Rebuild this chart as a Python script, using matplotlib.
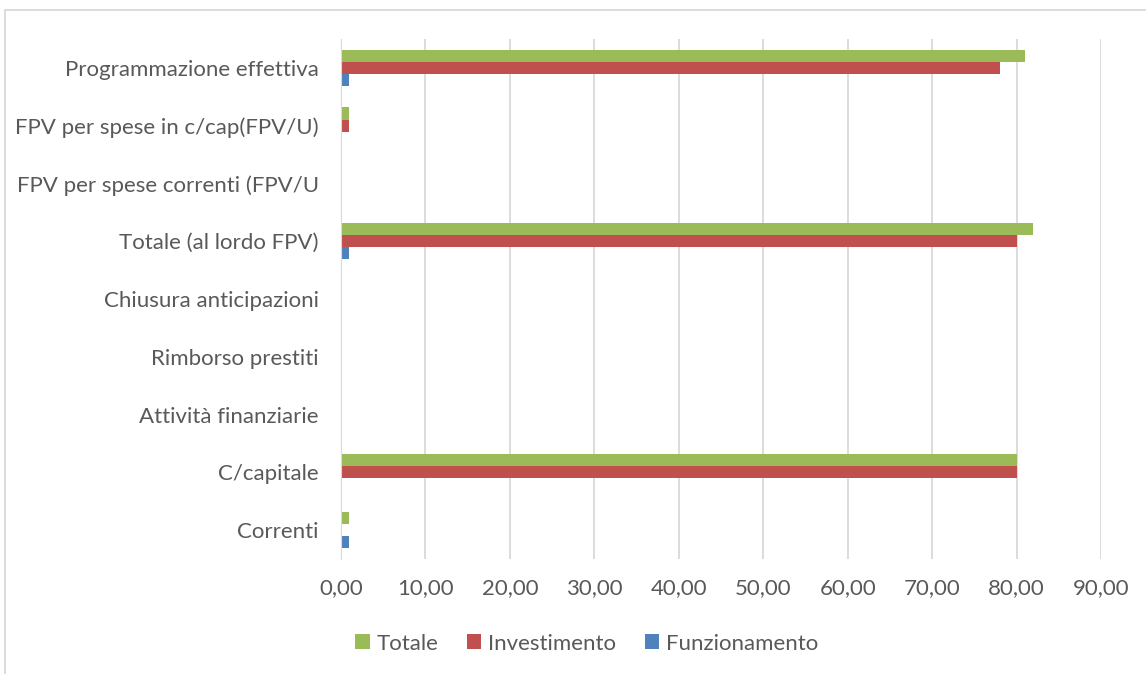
import numpy as np
import matplotlib.pyplot as plt
from matplotlib.patches import Rectangle
from matplotlib.ticker import FuncFormatter

categorie = ["Correnti", "C/capitale", "Attività finanziarie", "Rimborso prestiti",
             "Chiusura anticipazioni", "Totale (al lordo FPV)",
             "FPV per spese correnti (FPV/U", "FPV per spese in c/cap(FPV/U)",
             "Programmazione effettiva"]
funzionamento = [1, 0, 0, 0, 0, 1, 0, 0, 1]
investimento = [0, 80, 0, 0, 0, 80, 0, 1, 78]
totale = [1, 80, 0, 0, 0, 82, 0, 1, 81]

plt.rcParams['font.family'] = ['Lato', 'DejaVu Sans']
grigio = '#595959'

fig = plt.figure(figsize=(11.46, 6.74), dpi=100)
ax = fig.add_axes([0.2976, 0.1706, 0.6631, 0.7716])

y = np.arange(len(categorie))
h = 0.21
ax.barh(y + h, totale, height=h, color='#9bbb59', label='Totale')
ax.barh(y, investimento, height=h, color='#c0504d', label='Investimento')
ax.barh(y - h, funzionamento, height=h, color='#4f81bd', label='Funzionamento')

ax.set_xlim(0, 90)
ax.set_ylim(-0.5, len(categorie) - 0.5)
ax.set_xticks(np.arange(0, 91, 10))
ax.xaxis.set_major_formatter(FuncFormatter(lambda v, p: f"{v:.2f}".replace('.', ',')))
ax.set_yticks(y)
ax.set_yticklabels(categorie)
ax.tick_params(length=0, labelsize=16, labelcolor=grigio)
ax.tick_params(axis='y', pad=16)
ax.tick_params(axis='x', pad=14)
ax.grid(axis='x', color='#d9d9d9', linewidth=1.3)
ax.set_axisbelow(True)
for s in ['top', 'right', 'bottom']:
    ax.spines[s].set_visible(False)
ax.spines['left'].set_color('#d9d9d9')

fig.legend(loc='center', bbox_to_anchor=(0.512, 0.045), ncol=3, frameon=False,
           fontsize=16, labelcolor=grigio, handlelength=0.65, handleheight=0.65,
           handletextpad=0.3, columnspacing=1.3)

fig.patches.append(Rectangle((5 / 1146, -0.01), 1.2, 1 - 10 / 674 + 0.01,
                             transform=fig.transFigure, fill=False,
                             edgecolor='#d9d9d9', linewidth=1.3))

plt.savefig("out.png", dpi=100)
